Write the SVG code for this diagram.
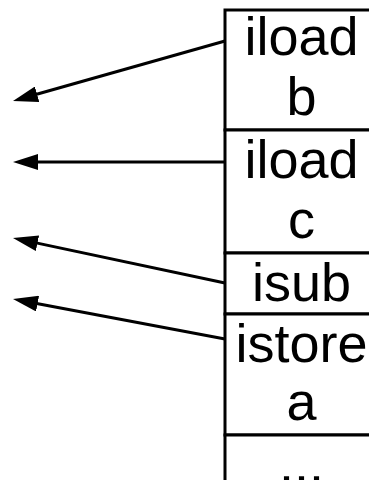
<svg xmlns="http://www.w3.org/2000/svg" width="369" height="480" viewBox="0 0 369 480">
<style>
.cell{fill:#fff;stroke:#000;stroke-width:3}
.lbl{font-family:"Liberation Sans",Arial,Helvetica,sans-serif;font-size:54px;text-anchor:middle;fill:#000}
.conn{stroke:#000;stroke-width:3;fill:none;marker-end:url(#ah)}
</style>
<defs>
<marker id="ah" viewBox="0 0 25 16" refX="5" refY="8" markerWidth="25" markerHeight="16" markerUnits="userSpaceOnUse" orient="auto">
<path d="M0,0 L25,8 L0,16 z" fill="#000"/>
</marker>
</defs>
<rect width="369" height="480" fill="#fff"/>
<g id="cell-iload-b">
<rect class="cell" x="225" y="10" width="170" height="120"/>
<text class="lbl" x="301.5" y="55">iload</text>
<text class="lbl" x="301.5" y="115">b</text>
</g>
<g id="cell-iload-c">
<rect class="cell" x="225" y="130" width="170" height="123"/>
<text class="lbl" x="301.5" y="178">iload</text>
<text class="lbl" x="301.5" y="238">c</text>
</g>
<g id="cell-isub">
<rect class="cell" x="225" y="253" width="170" height="61"/>
<text class="lbl" x="301.5" y="301">isub</text>
</g>
<g id="cell-istore-a">
<rect class="cell" x="225" y="314" width="170" height="121"/>
<text class="lbl" x="301.5" y="362">istore</text>
<text class="lbl" x="301.5" y="420">a</text>
</g>
<g id="cell-more">
<rect class="cell" x="225" y="435" width="170" height="80"/>
<text class="lbl" x="301.5" y="482">...</text>
</g>
<g id="connectors">
<line class="conn" x1="225" y1="41" x2="32.25" y2="95.55"/>
<line class="conn" x1="225" y1="162" x2="33" y2="162"/>
<line class="conn" x1="225" y1="283" x2="32.57" y2="242.15"/>
<line class="conn" x1="225" y1="339" x2="32.66" y2="302.7"/>
</g>
</svg>
